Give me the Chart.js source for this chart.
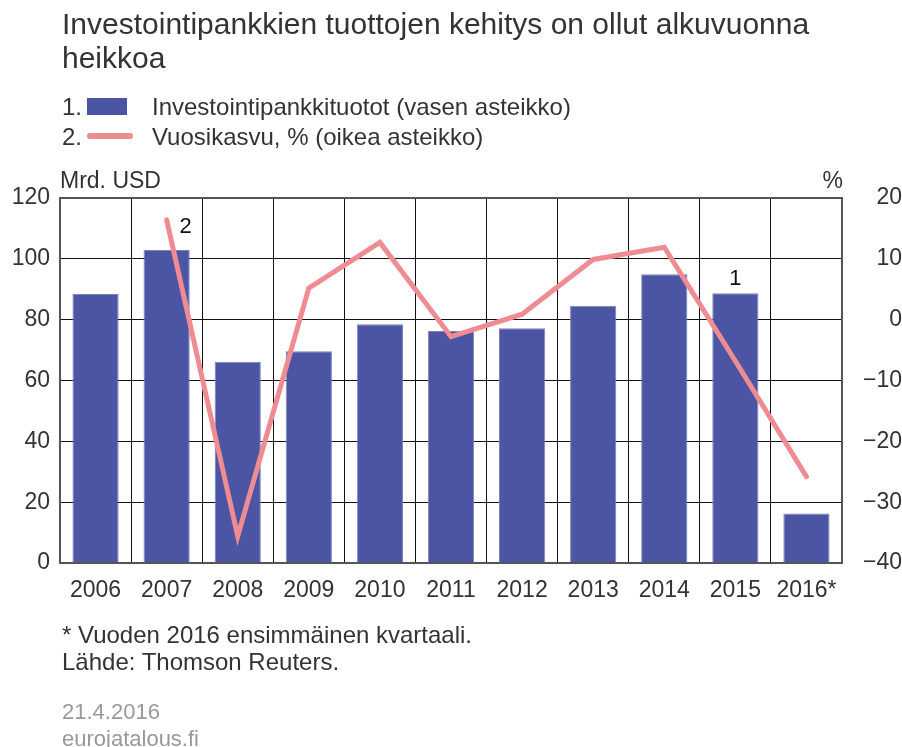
<!DOCTYPE html>
<html lang="fi">
  <head>
    <meta charset="UTF-8" />
    <title>Investointipankkien tuotot</title>
    <script src="https://cdn.jsdelivr.net/npm/chart.js@4.4.1/dist/chart.umd.min.js"></script>
    <style>
      body {
        margin: 0;
        background: #ffffff;
        font-family: "Liberation Sans", Arial, sans-serif;
        color: #333333;
      }

      #wrap {
        position: relative;
        width: 902px;
        height: 747px;
        overflow: hidden;
      }

      #chart {
        position: absolute;
        left: 0;
        top: 0;
      }

      .txt {
        position: absolute;
        white-space: nowrap;
      }

      #title {
        left: 62px;
        top: 7px;
        font-size: 30px;
        line-height: 34px;
      }

      .legend-row {
        position: absolute;
        left: 62px;
        width: 700px;
        height: 24px;
        font-size: 24px;
        line-height: 24px;
        white-space: nowrap;
      }

      .legend-row .num {
        position: absolute;
        left: 0;
      }

      .legend-row .label {
        position: absolute;
        left: 90px;
      }

      .swatch-bar {
        position: absolute;
        left: 25px;
        top: 3px;
        width: 40px;
        height: 17px;
        background: #4b55a3;
      }

      .swatch-line {
        position: absolute;
        left: 25px;
        top: 8px;
        width: 46px;
        height: 6px;
        border-radius: 3px;
        background: #ef8c92;
      }

      .axis-unit {
        top: 167px;
        font-size: 23px;
      }

      .note {
        left: 62px;
        font-size: 24px;
      }

      .stamp {
        left: 62px;
        font-size: 22px;
        color: #999999;
      }
    </style>
  </head>
  <body>
    <div id="wrap">
      <canvas id="chart" width="902" height="747"></canvas>

      <div id="title" class="txt">
        Investointipankkien tuottojen kehitys on ollut alkuvuonna<br />heikkoa
      </div>

      <div class="legend-row" style="top: 95px">
        <span class="num">1.</span><span class="swatch-bar"></span>
        <span class="label">Investointipankkituotot (vasen asteikko)</span>
      </div>
      <div class="legend-row" style="top: 125px">
        <span class="num">2.</span><span class="swatch-line"></span>
        <span class="label">Vuosikasvu, % (oikea asteikko)</span>
      </div>

      <div class="txt axis-unit" style="left: 60px">Mrd. USD</div>
      <div class="txt axis-unit" style="right: 59px">%</div>

      <div class="txt note" style="top: 621px">* Vuoden 2016 ensimmäinen kvartaali.</div>
      <div class="txt note" style="top: 648px">Lähde: Thomson Reuters.</div>

      <div class="txt stamp" style="top: 699px">21.4.2016</div>
      <div class="txt stamp" style="top: 726px">eurojatalous.fi</div>
    </div>

    <script>
      // years on the x axis
      const years = ["2006", "2007", "2008", "2009", "2010", "2011", "2012", "2013", "2014", "2015", "2016*"];
      // investment bank revenue, bn USD (left axis)
      const revenue = [88.4, 102.9, 66.2, 69.6, 78.5, 76.3, 77.2, 84.6, 94.9, 88.7, 16.3];
      // year-on-year change, % (right axis)
      const growth = [null, 16.4, -35.6, 5.2, 12.7, -2.8, 0.9, 9.9, 11.9, -6.8, -25.8];

      const leftTicks = [0, 20, 40, 60, 80, 100, 120];
      const rightTicks = [-40, -30, -20, -10, 0, 10, 20];

      const textColor = "#333333";
      const tickFont = { family: "'Liberation Sans', Arial, sans-serif", size: 23 };

      // frame around the plot area plus the "1" / "2" series markers
      const framePlugin = {
        id: "frame",
        beforeDatasetsDraw(chart) {
          const { ctx, chartArea: a } = chart;
          ctx.save();
          ctx.strokeStyle = "#555555";
          ctx.lineWidth = 2;
          ctx.strokeRect(a.left, a.top, a.right - a.left, a.bottom - a.top);
          ctx.restore();
        },
        afterDatasetsDraw(chart) {
          const { ctx } = chart;
          const barMeta = chart.getDatasetMeta(1);
          const lineMeta = chart.getDatasetMeta(0);
          ctx.save();
          ctx.fillStyle = "#111111";
          ctx.font = "22px 'Liberation Sans', Arial, sans-serif";
          ctx.textAlign = "center";
          ctx.textBaseline = "middle";
          // "1" above the 2015 bar
          const bar = barMeta.data[9];
          ctx.fillText("1", bar.x, bar.y - 14);
          // "2" beside the first point of the line
          const pt = lineMeta.data[1];
          ctx.fillText("2", pt.x + 19, pt.y + 7);
          ctx.restore();
        },
      };

      const ctx = document.getElementById("chart").getContext("2d");
      new Chart(ctx, {
        data: {
          labels: years,
          datasets: [
            {
              type: "line",
              label: "Vuosikasvu, %",
              data: growth,
              yAxisID: "y1",
              borderColor: "#ef8c92",
              borderWidth: 5,
              borderCapStyle: "round",
              borderJoinStyle: "miter",
              pointRadius: 0,
              tension: 0,
              spanGaps: false,
              order: 0,
            },
            {
              type: "bar",
              label: "Investointipankkituotot",
              data: revenue,
              yAxisID: "y",
              backgroundColor: "#4b55a3",
              borderColor: "#7c84c0",
              borderWidth: 1,
              categoryPercentage: 1,
              barPercentage: 0.65,
              order: 1,
            },
          ],
        },
        options: {
          responsive: false,
          animation: false,
          devicePixelRatio: 1,
          layout: {
            padding: { top: 198, bottom: 144, left: 0, right: 0 },
          },
          plugins: {
            legend: { display: false },
            tooltip: { enabled: false },
          },
          scales: {
            x: {
              offset: true,
              grid: {
                offset: true,
                color: "#111111",
                lineWidth: 1,
                drawTicks: false,
              },
              border: { display: false },
              ticks: {
                color: textColor,
                font: tickFont,
                padding: 14,
                maxRotation: 0,
                autoSkip: false,
              },
              afterFit(scale) {
                scale.height = 40;
              },
            },
            y: {
              position: "left",
              min: 0,
              max: 120,
              afterBuildTicks(scale) {
                scale.ticks = leftTicks.map((v) => ({ value: v }));
              },
              grid: { color: "#111111", lineWidth: 1, drawTicks: false },
              border: { display: false },
              ticks: { color: textColor, font: tickFont, padding: 10 },
              afterFit(scale) {
                scale.width = 60;
              },
            },
            y1: {
              position: "right",
              min: -40,
              max: 20,
              afterBuildTicks(scale) {
                scale.ticks = rightTicks.map((v) => ({ value: v }));
              },
              grid: { display: false, drawTicks: false },
              border: { display: false },
              ticks: {
                color: textColor,
                font: tickFont,
                padding: 12,
                crossAlign: "far",
                callback: (v) => (v < 0 ? "\u2212" + Math.abs(v) : String(v)),
              },
              afterFit(scale) {
                scale.width = 60;
              },
            },
          },
        },
        plugins: [framePlugin],
      });
    </script>
  </body>
</html>
